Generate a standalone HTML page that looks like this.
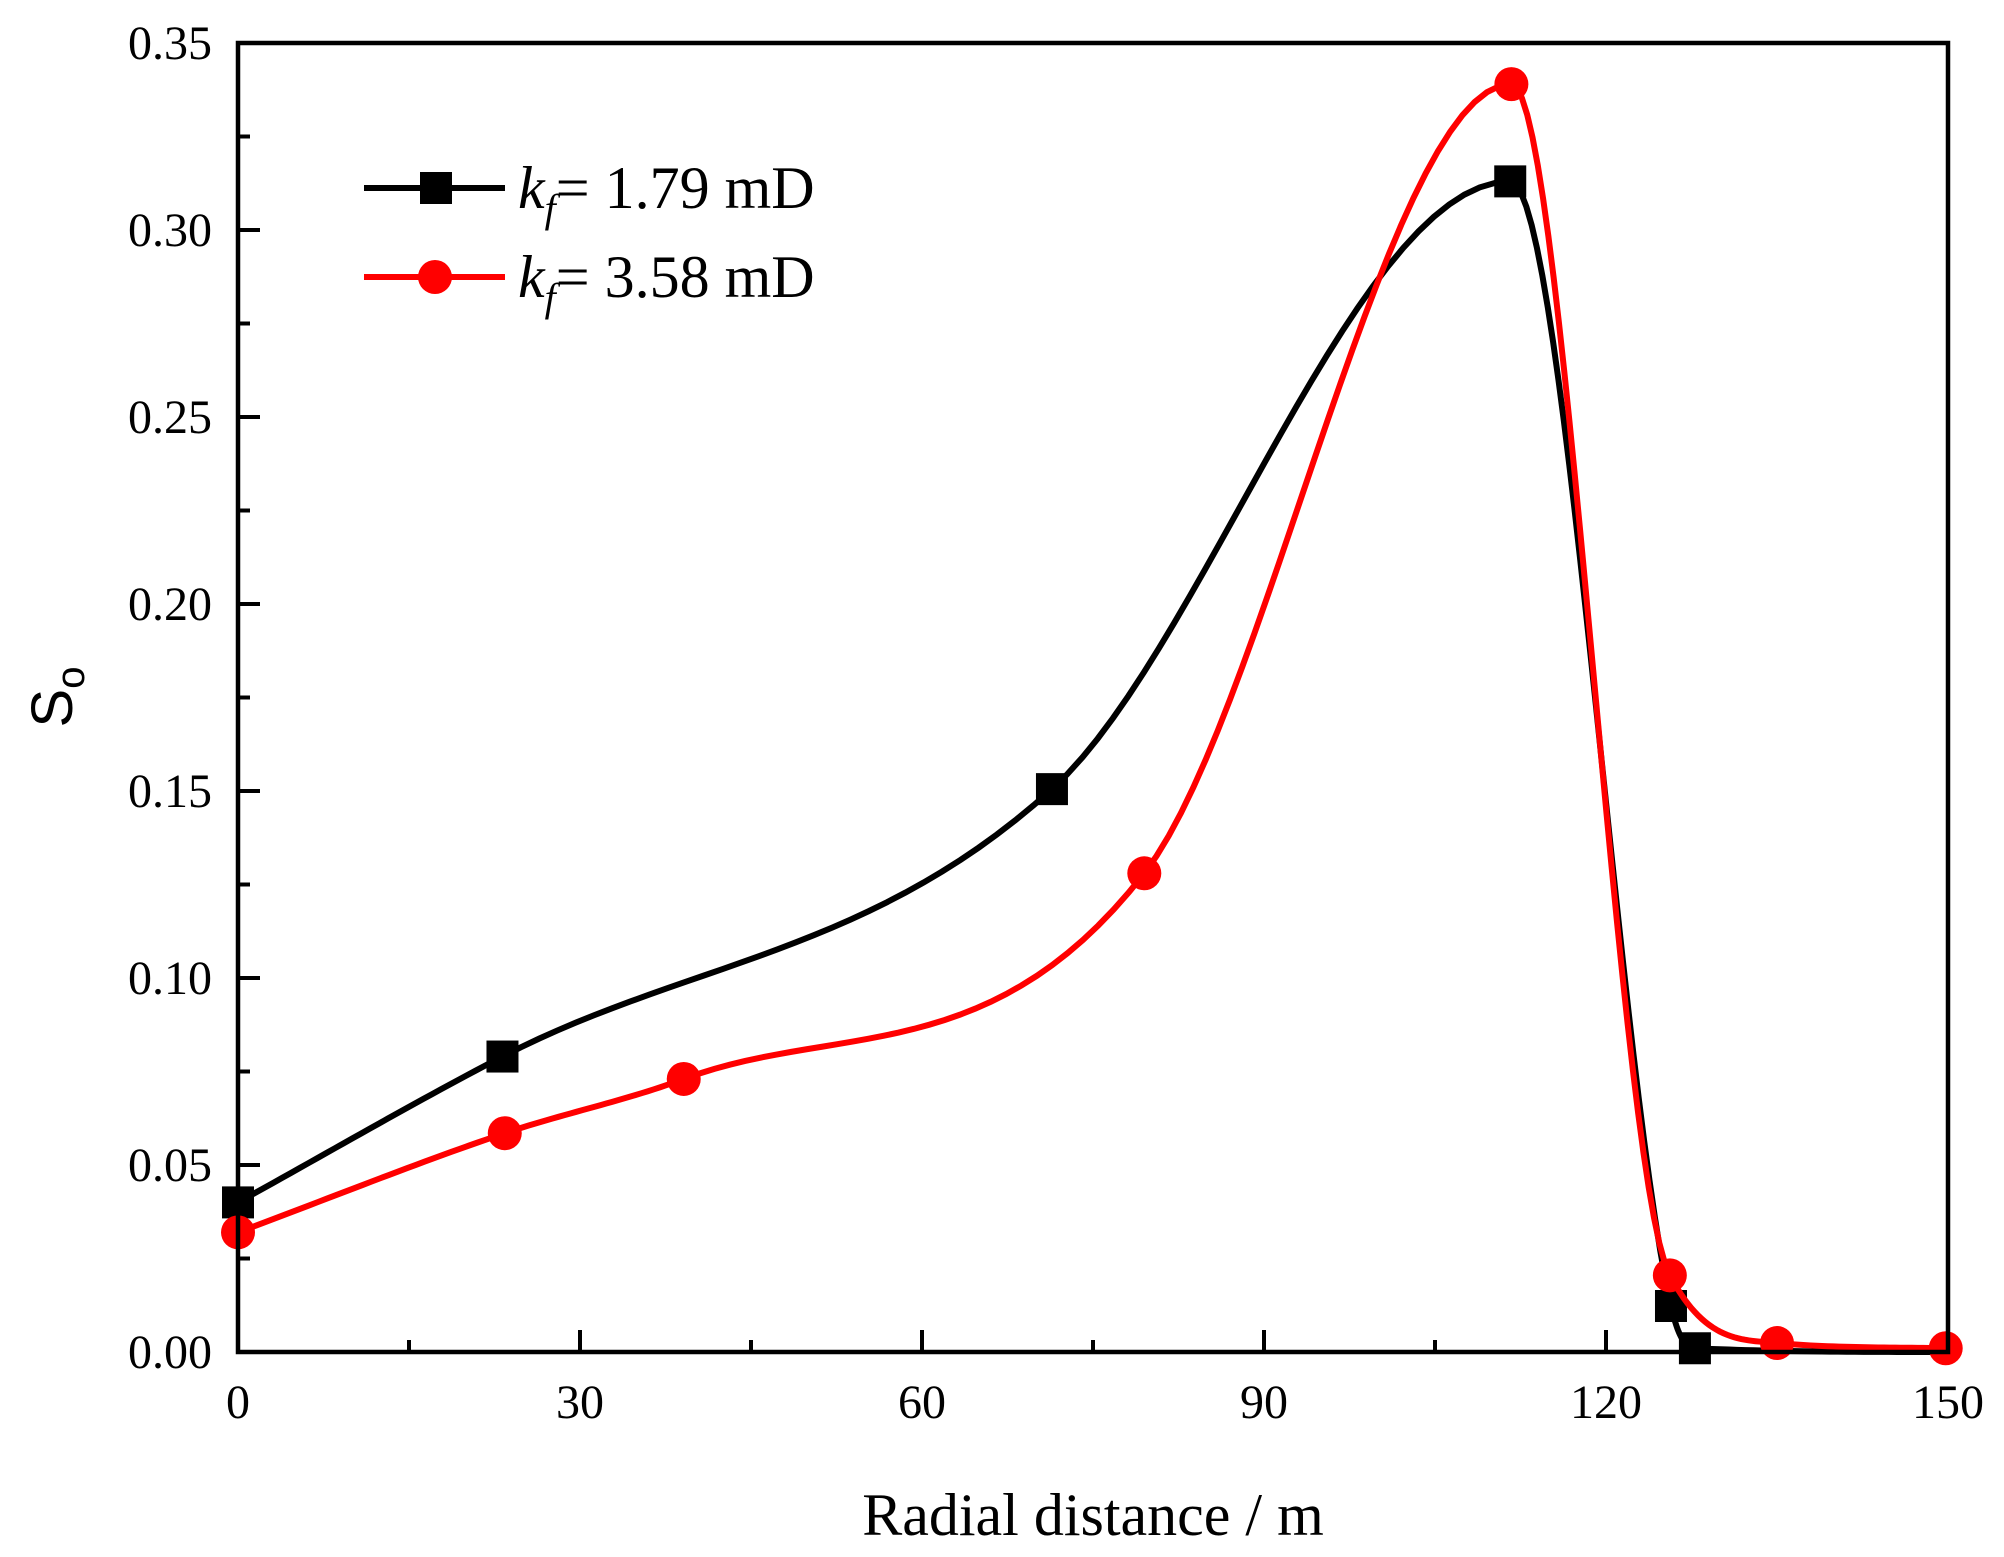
<!DOCTYPE html>
<html><head><meta charset="utf-8"><style>
html,body{margin:0;padding:0;background:#fff;}
svg{display:block;}
text{font-family:"Liberation Serif",serif;fill:#000;}
</style></head><body>
<svg id="chart" width="2004" height="1557" viewBox="0 0 2004 1557">
<g id="ticks"></g>
<g id="series"></g>
<rect x="238" y="43" width="1710" height="1309" fill="none" stroke="#000" stroke-width="4.5"/>
<text x="1093" y="1535" font-size="60" text-anchor="middle">Radial distance / m</text>
<text transform="translate(72,697) rotate(-90)" font-size="58" text-anchor="middle" style="font-family:'Liberation Sans',sans-serif">S<tspan font-size="40" dy="12">o</tspan></text>
<g>
<g>
<line x1="364" y1="188" x2="505" y2="188" stroke="#000" stroke-width="6"/>
<rect x="420" y="172" width="32" height="32" fill="#000"/>
<text x="518" y="208" font-size="60"><tspan font-style="italic">k</tspan><tspan font-style="italic" font-size="40" dy="14">f</tspan><tspan dy="-14">= 1.79 mD</tspan></text>
</g>
<g>
<line x1="364" y1="277" x2="505" y2="277" stroke="#f00" stroke-width="6"/>
<circle cx="435" cy="277" r="17" fill="#f00"/>
<text x="518" y="297" font-size="60"><tspan font-style="italic">k</tspan><tspan font-style="italic" font-size="40" dy="14">f</tspan><tspan dy="-14">= 3.58 mD</tspan></text>
</g>
</g>
</svg>
<script>
const blackX = [0, 23.2, 71.4, 111.6, 125.7, 127.8, 150];
const blackY = [0.040, 0.079, 0.1505, 0.313, 0.0123, 0.001, 0.0];
const blackMarked = [true, true, true, true, true, true, false];
const redX = [0, 23.4, 39.1, 79.5, 111.7, 125.6, 135, 149.8];
const redY = [0.032, 0.0585, 0.073, 0.128, 0.339, 0.0205, 0.0024, 0.001];
const xTicks = [0, 30, 60, 90, 120, 150];
const xTickLabels = ["0", "30", "60", "90", "120", "150"];
const yTicks = [0, 0.05, 0.10, 0.15, 0.20, 0.25, 0.30, 0.35];
const yTickLabels = ["0.00", "0.05", "0.10", "0.15", "0.20", "0.25", "0.30", "0.35"];

const NS = "http://www.w3.org/2000/svg";
const X0 = 238, X1 = 1948, Y0 = 1352, Y1 = 43;
function sx(v){ return X0 + (v - 0) / 150 * (X1 - X0); }
function sy(v){ return Y0 - (v - 0) / 0.35 * (Y0 - Y1); }
function mk(tag, attrs){ const e = document.createElementNS(NS, tag); for (const k in attrs) e.setAttribute(k, attrs[k]); return e; }

const tg = document.getElementById('ticks');
xTicks.forEach((t, i) => {
  const l = mk('line', {x1: sx(t), x2: sx(t), y1: Y0, y2: Y0 - 22, stroke: '#000', 'stroke-width': 4});
  
  
  tg.appendChild(l);
  const tx = mk('text', {x: sx(t), y: 1418, 'font-size': 48, 'text-anchor': 'middle'});
  tx.textContent = xTickLabels[i];
  
  
  tg.appendChild(tx);
  if (i < xTicks.length - 1) {
    const m = (t + xTicks[i + 1]) / 2;
    const ml = mk('line', {x1: sx(m), x2: sx(m), y1: Y0, y2: Y0 - 12, stroke: '#000', 'stroke-width': 4});
    
    
    tg.appendChild(ml);
  }
});
yTicks.forEach((t, i) => {
  const l = mk('line', {x1: X0, x2: X0 + 22, y1: sy(t), y2: sy(t), stroke: '#000', 'stroke-width': 4});
  
  
  tg.appendChild(l);
  const tx = mk('text', {x: 212, y: sy(t) + 16, 'font-size': 48, 'text-anchor': 'end'});
  tx.textContent = yTickLabels[i];
  
  
  tg.appendChild(tx);
  if (i < yTicks.length - 1) {
    const m = (t + yTicks[i + 1]) / 2;
    const ml = mk('line', {x1: X0, x2: X0 + 12, y1: sy(m), y2: sy(m), stroke: '#000', 'stroke-width': 4});
    
    
    tg.appendChild(ml);
  }
});

function monotonePath(xs, ys){
  const n = xs.length, d = [], m = [];
  for (let i = 0; i < n - 1; i++) d.push((ys[i+1] - ys[i]) / (xs[i+1] - xs[i]));
  m[0] = d[0]; m[n-1] = d[n-2];
  for (let i = 1; i < n - 1; i++) m[i] = (d[i-1] * d[i] <= 0) ? 0 : (d[i-1] + d[i]) / 2;
  for (let i = 0; i < n - 1; i++) {
    if (d[i] === 0) { m[i] = 0; m[i+1] = 0; continue; }
    const a = m[i] / d[i], b = m[i+1] / d[i], s = a*a + b*b;
    if (s > 9) { const t = 3 / Math.sqrt(s); m[i] = t*a*d[i]; m[i+1] = t*b*d[i]; }
  }
  let p = 'M' + sx(xs[0]) + ',' + sy(ys[0]);
  for (let i = 0; i < n - 1; i++) {
    const h = xs[i+1] - xs[i];
    for (let k = 1; k <= 30; k++) {
      const t = k / 30, t2 = t*t, t3 = t2*t;
      const v = (2*t3 - 3*t2 + 1)*ys[i] + (t3 - 2*t2 + t)*h*m[i] + (-2*t3 + 3*t2)*ys[i+1] + (t3 - t2)*h*m[i+1];
      p += ' L' + sx(xs[i] + t*h).toFixed(2) + ',' + sy(v).toFixed(2);
    }
  }
  return p;
}

const sg = document.getElementById('series');
const bl = mk('path', {d: monotonePath(blackX, blackY), fill: 'none', stroke: '#000', 'stroke-width': 6});


sg.appendChild(bl);
blackX.forEach((x, i) => {
  if (!blackMarked[i]) return;
  const r = mk('rect', {x: sx(x) - 16, y: sy(blackY[i]) - 16, width: 32, height: 32, fill: '#000'});
  
  
  sg.appendChild(r);
});
const rl = mk('path', {d: monotonePath(redX, redY), fill: 'none', stroke: '#f00', 'stroke-width': 6});


sg.appendChild(rl);
redX.forEach((x, i) => {
  const c = mk('circle', {cx: sx(x), cy: sy(redY[i]), r: 17, fill: '#f00'});
  
  
  sg.appendChild(c);
});
</script>
</body></html>
